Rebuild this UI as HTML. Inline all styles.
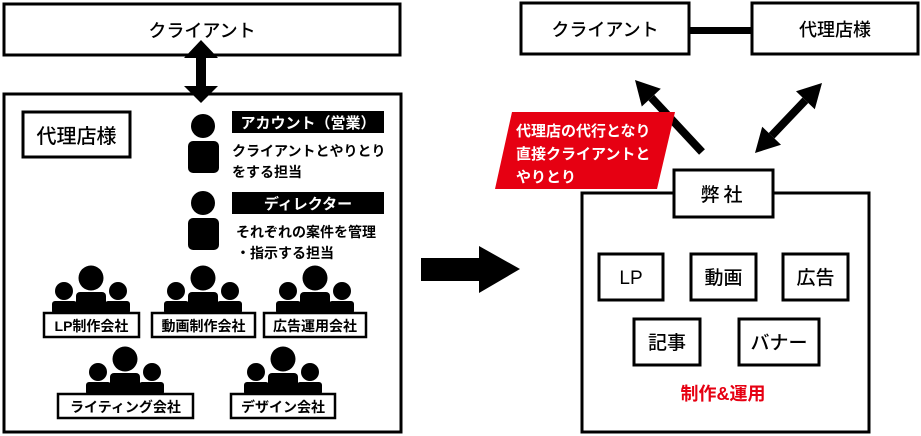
<!DOCTYPE html>
<html><head><meta charset="utf-8"><style>
html,body{margin:0;padding:0;background:#fff;}
svg{display:block;}
text{font-family:"Liberation Sans","Noto Sans CJK JP",sans-serif;}
.m{font-family:"Liberation Sans","Noto Sans CJK JP Medium","Noto Sans CJK JP",sans-serif;font-weight:500;}
</style></head><body>
<svg width="921" height="436" viewBox="0 0 921 436" xmlns="http://www.w3.org/2000/svg">
<defs>
<g id="grp">
  <circle cx="0" cy="-34" r="12.5"/>
  <circle cx="-27" cy="-21" r="9"/>
  <circle cx="27" cy="-21" r="9"/>
  <rect x="-39" y="-11" width="25" height="13" rx="3"/>
  <rect x="14" y="-11" width="25" height="13" rx="3"/>
  <rect x="-15" y="-20" width="30" height="22" rx="4"/>
</g>
<g id="person">
  <circle cx="0" cy="0" r="12"/>
  <rect x="-15" y="15" width="31" height="32" rx="5"/>
</g>
</defs>
<!-- Left -->
<rect x="4" y="4" width="396" height="51" fill="#fff" stroke="#000" stroke-width="3"/>
<text class="m" x="202" y="37" font-size="18" text-anchor="middle">クライアント</text>
<rect x="4" y="94" width="397" height="338" fill="#fff" stroke="#000" stroke-width="3"/>
<rect x="196" y="55" width="10" height="33"/>
<polygon points="201,40 184,58 218,58"/>
<polygon points="201,103 184,86 218,86"/>
<rect x="23" y="112" width="107" height="45" fill="#fff" stroke="#000" stroke-width="3"/>
<text class="m" x="76.5" y="143" font-size="20" text-anchor="middle">代理店様</text>
<use href="#person" x="203" y="126"/>
<use href="#person" x="203" y="203"/>
<rect x="232" y="111" width="152" height="22"/>
<text x="308" y="128" font-size="15" fill="#fff" text-anchor="middle" font-weight="bold">アカウント（営業）</text>
<text x="232" y="156" font-size="14" font-weight="bold">クライアントとやりとり</text>
<text x="232" y="177" font-size="14" font-weight="bold">をする担当</text>
<rect x="232" y="192" width="152" height="22"/>
<text x="308" y="209" font-size="15" fill="#fff" text-anchor="middle" font-weight="bold">ディレクター</text>
<text x="236" y="237" font-size="14" font-weight="bold">それぞれの案件を管理</text>
<text x="236" y="258" font-size="14" font-weight="bold">・指示する担当</text>
<use href="#grp" x="91" y="312"/>
<rect x="44" y="313" width="95" height="24" fill="#fff" stroke="#000" stroke-width="2.5"/>
<text x="91.5" y="331" font-size="14" font-weight="bold" text-anchor="middle">LP制作会社</text>
<use href="#grp" x="203" y="312"/>
<rect x="152" y="313" width="103" height="24" fill="#fff" stroke="#000" stroke-width="2.5"/>
<text x="203.5" y="331" font-size="14" font-weight="bold" text-anchor="middle">動画制作会社</text>
<use href="#grp" x="315" y="312"/>
<rect x="264" y="313" width="102" height="24" fill="#fff" stroke="#000" stroke-width="2.5"/>
<text x="315" y="331" font-size="14" font-weight="bold" text-anchor="middle">広告運用会社</text>
<use href="#grp" x="125" y="393"/>
<rect x="58" y="394" width="135" height="24" fill="#fff" stroke="#000" stroke-width="2.5"/>
<text x="125.5" y="412" font-size="14" font-weight="bold" text-anchor="middle">ライティング会社</text>
<use href="#grp" x="283" y="393"/>
<rect x="231" y="394" width="104" height="24" fill="#fff" stroke="#000" stroke-width="2.5"/>
<text x="283" y="412" font-size="14" font-weight="bold" text-anchor="middle">デザイン会社</text>
<polygon points="421,258 479,258 479,246 520,269 479,293 479,281 421,281"/>
<!-- right top -->
<rect x="521" y="3" width="168" height="51" fill="#fff" stroke="#000" stroke-width="3"/>
<text class="m" x="605" y="36" font-size="18" text-anchor="middle">クライアント</text>
<rect x="689" y="27" width="63" height="7"/>
<rect x="752" y="3" width="166" height="51" fill="#fff" stroke="#000" stroke-width="3"/>
<text class="m" x="835" y="36" font-size="18" text-anchor="middle">代理店様</text>
<line x1="702" y1="152" x2="651.3" y2="97.6" stroke="#000" stroke-width="8"/>
<polygon points="635,80 660.8,88.7 641.8,106.5"/>
<line x1="771.6" y1="135.7" x2="805.4" y2="100.3" stroke="#000" stroke-width="8"/>
<polygon points="822,83 814.8,109.3 796,91.3"/>
<polygon points="755,153 781,144.7 762.2,126.7"/>
<polygon points="512,112 675,112 657,189 495,189" fill="#e60012"/>
<text x="516" y="136" font-size="15" fill="#fff" font-weight="bold">代理店の代行となり</text>
<text x="516" y="159" font-size="15" fill="#fff" font-weight="bold">直接クライアントと</text>
<text x="516" y="182" font-size="15" fill="#fff" font-weight="bold">やりとり</text>
<rect x="582" y="193" width="287" height="239" fill="#fff" stroke="#000" stroke-width="3"/>
<rect x="674" y="170" width="99" height="47" fill="#fff" stroke="#000" stroke-width="3"/>
<text class="m" x="723.5" y="201" font-size="19" text-anchor="middle" letter-spacing="4">弊社</text>
<g fill="#fff" stroke="#000" stroke-width="3">
<rect x="599" y="254" width="64" height="46"/>
<rect x="691" y="254" width="65" height="46"/>
<rect x="783" y="254" width="65" height="46"/>
<rect x="634" y="319" width="66" height="46"/>
<rect x="739" y="319" width="80" height="46"/>
</g>
<g font-size="19" text-anchor="middle" class="m">
<text class="m" x="631" y="284">LP</text>
<text class="m" x="723.5" y="284">動画</text>
<text class="m" x="815.5" y="284">広告</text>
<text class="m" x="667" y="349">記事</text>
<text class="m" x="779" y="349">バナー</text>
</g>
<text x="723" y="400" font-size="18" fill="#e60012" font-weight="bold" text-anchor="middle">制作&amp;運用</text>
</svg>
</body></html>
